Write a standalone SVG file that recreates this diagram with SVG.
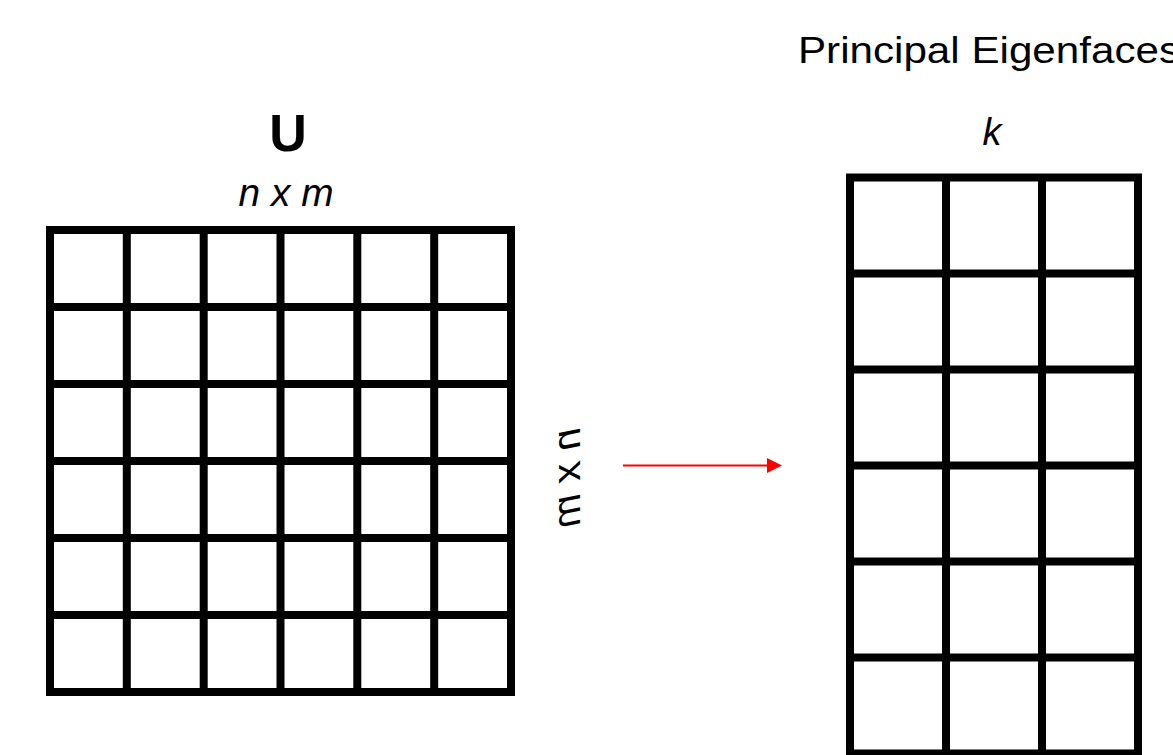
<svg xmlns="http://www.w3.org/2000/svg" width="1173" height="755" viewBox="0 0 1173 755">
  <style>
    .grid { fill: none; stroke: #000; stroke-width: 8; }
    .t { font-family: "Liberation Sans", Arial, sans-serif; fill: #000; }
    .it { font-style: italic; font-size: 38px; }
  </style>
  <defs>
    <marker id="arrow" markerWidth="15" markerHeight="15" refX="0" refY="7.5" orient="auto" markerUnits="userSpaceOnUse">
      <path d="M0,0 L15,7.5 L0,15 Z" fill="#ff0000"/>
    </marker>
  </defs>
  <rect width="1173" height="755" fill="#ffffff"/>

  <g id="matrix-u">
    <rect class="grid" x="50" y="230" width="461" height="462"/>
    <path class="grid" d="M126.8,230V692 M203.7,230V692 M280.5,230V692 M357.3,230V692 M434.2,230V692 M50,307H511 M50,384H511 M50,461H511 M50,538H511 M50,615H511"/>
    <text class="t" x="288" y="151" font-size="52" font-weight="bold" text-anchor="middle">U</text>
    <text class="t it" x="286" y="206" text-anchor="middle" textLength="95" lengthAdjust="spacingAndGlyphs">n x m</text>
    <text class="t it" transform="translate(580,478) scale(-1,1) rotate(90)" text-anchor="middle" font-size="40" textLength="100" lengthAdjust="spacingAndGlyphs">n x m</text>
  </g>

  <g id="eigenfaces">
    <rect class="grid" x="850" y="177.5" width="288" height="576"/>
    <path class="grid" d="M946,177.5V753.5 M1042,177.5V753.5 M850,273.5H1138 M850,369.5H1138 M850,465.5H1138 M850,561.5H1138 M850,657.5H1138"/>
    <text class="t" x="798" y="63" font-size="37" textLength="382" lengthAdjust="spacingAndGlyphs">Principal Eigenfaces</text>
    <text class="t it" x="992" y="145" text-anchor="middle">k</text>
  </g>

  <g id="connectors">
    <line x1="623" y1="465.5" x2="767" y2="465.5" stroke="#ff0000" stroke-width="2" marker-end="url(#arrow)"/>
  </g>
</svg>
